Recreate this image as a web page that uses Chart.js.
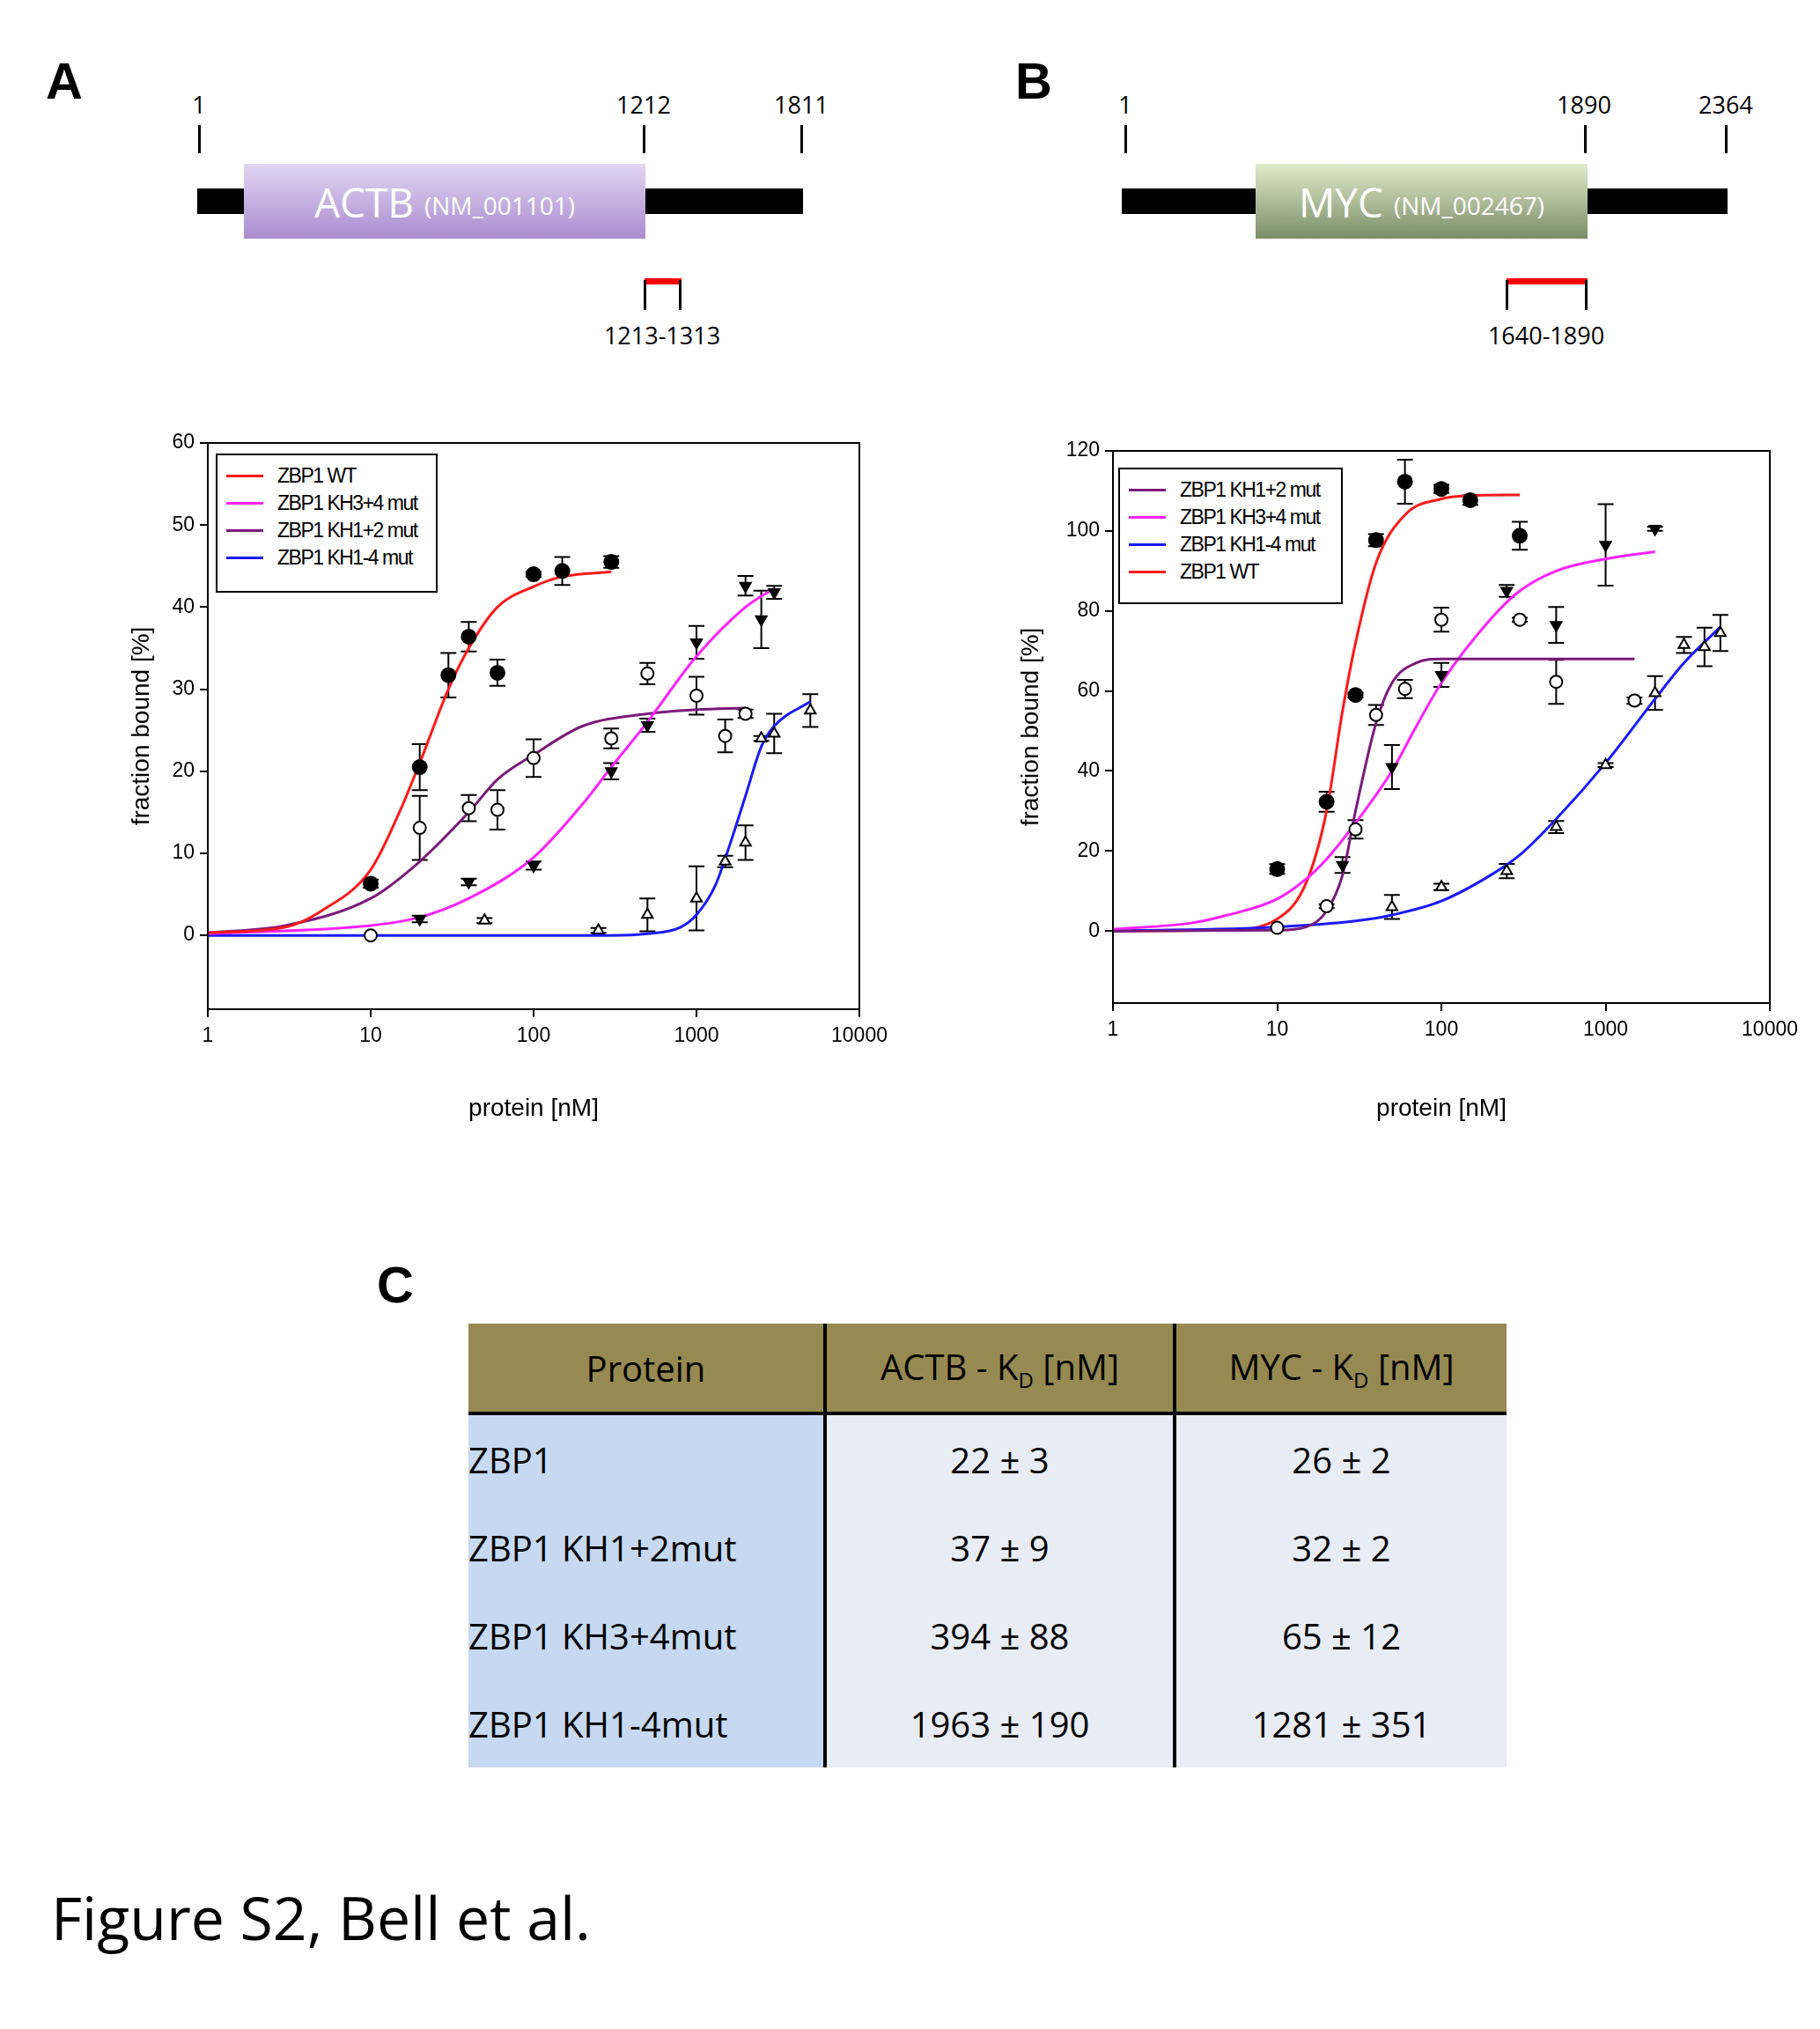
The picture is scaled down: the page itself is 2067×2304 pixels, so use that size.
<!DOCTYPE html>
<html>
<head>
<meta charset="utf-8">
<script src="https://cdn.jsdelivr.net/npm/chart.js@4.4.1/dist/chart.umd.min.js"></script>
<style>
  body { margin: 0; width: 2067px; height: 2304px; background: #fff; position: relative; font-family: "Open Sans", "Liberation Sans", sans-serif; overflow: hidden; }
  .abs { position: absolute; }
  .panel { font-weight: bold; font-size: 58px; font-family: "Liberation Sans", Arial, sans-serif; }
  .bar { background: #000; height: 29px; }
  .tick { width: 3px; background: #000; }
  .num { font-size: 27px; transform: translateX(-50%); white-space: nowrap; }
  .gene { display: flex; align-items: center; justify-content: center; color: #fff; font-size: 46px; }
  .gene small { font-size: 28px; margin-left: 12px; margin-top: 8px; }
  .legend { border: 2px solid #000; background: #fff; font-family: "Liberation Sans", Arial, sans-serif; font-size: 23px; letter-spacing: -1.5px; padding: 8px 10px; box-sizing: border-box; }
  .legend div { display: flex; align-items: center; height: 31px; }
  .legend span.ln { display: inline-block; width: 42px; height: 3px; margin-right: 16px; }
  table { border-collapse: collapse; font-size: 40px; }
  td, th { height: 100px; padding: 0; }
</style>
</head>
<body>
<!-- ===== Panel A diagram ===== -->
<div class="abs panel" style="left:52px;top:58px">A</div>
<div class="abs num" style="left:226px;top:100px">1</div>
<div class="abs num" style="left:731px;top:100px">1212</div>
<div class="abs num" style="left:910px;top:100px">1811</div>
<div class="abs tick" style="left:225px;top:142px;height:32px"></div>
<div class="abs tick" style="left:730px;top:142px;height:32px"></div>
<div class="abs tick" style="left:909px;top:142px;height:32px"></div>
<div class="abs bar" style="left:224px;top:214px;width:688px"></div>
<div class="abs gene" style="left:277px;top:186px;width:456px;height:85px;background:linear-gradient(#e2d6f2,#a98ccf)">ACTB<small>(NM_001101)</small></div>
<div class="abs" style="left:732px;top:316px;width:42px;height:7px;background:#f00"></div>
<div class="abs tick" style="left:731px;top:318px;height:34px"></div>
<div class="abs tick" style="left:771px;top:318px;height:34px"></div>
<div class="abs num" style="left:752px;top:362px">1213-1313</div>

<!-- ===== Panel B diagram ===== -->
<div class="abs panel" style="left:1153px;top:58px">B</div>
<div class="abs num" style="left:1278px;top:100px">1</div>
<div class="abs num" style="left:1799px;top:100px">1890</div>
<div class="abs num" style="left:1960px;top:100px">2364</div>
<div class="abs tick" style="left:1277px;top:142px;height:32px"></div>
<div class="abs tick" style="left:1799px;top:142px;height:32px"></div>
<div class="abs tick" style="left:1959px;top:142px;height:32px"></div>
<div class="abs bar" style="left:1274px;top:214px;width:688px"></div>
<div class="abs gene" style="left:1426px;top:186px;width:377px;height:85px;background:linear-gradient(#dfeccb,#7b8d68)">MYC<small>(NM_002467)</small></div>
<div class="abs" style="left:1711px;top:316px;width:92px;height:7px;background:#f00"></div>
<div class="abs tick" style="left:1710px;top:318px;height:34px"></div>
<div class="abs tick" style="left:1800px;top:318px;height:34px"></div>
<div class="abs num" style="left:1756px;top:362px">1640-1890</div>

<!-- ===== Charts ===== -->
<div class="abs" style="left:140px;top:480px;width:880px;height:800px"><canvas id="chartA"></canvas></div>
<div class="abs" style="left:1150px;top:480px;width:900px;height:800px"><canvas id="chartB"></canvas></div>
<div class="abs legend" id="legendA" style="left:245px;top:515px;width:252px;height:158px"></div>
<div class="abs legend" id="legendB" style="left:1270px;top:531px;width:255px;height:155px"></div>

<!-- ===== Panel C table ===== -->
<div class="abs panel" style="left:428px;top:1425px">C</div>
<table class="abs" style="left:532px;top:1503px;width:1179px">
  <tr style="background:#968a52">
    <th style="width:403px;font-weight:normal;border-right:4px solid #000;border-bottom:4px solid #000">Protein</th>
    <th style="width:393px;font-weight:normal;border-right:4px solid #000;border-bottom:4px solid #000">ACTB - K<sub style="font-size:24px">D</sub> [nM]</th>
    <th style="font-weight:normal;border-bottom:4px solid #000">MYC - K<sub style="font-size:24px">D</sub> [nM]</th>
  </tr>
  <tbody id="kdBody"></tbody>
</table>

<div class="abs" style="left:58px;top:2130px;font-size:68px">Figure S2, Bell et al.</div>

<script>
/* ===== ACTB data (panel A) ===== */
const actbWtX = [10, 20, 30, 40, 60, 100, 150, 300];
const actbWtY = [6.3, 20.5, 31.7, 36.4, 32, 44, 44.4, 45.5];
const actbWtErr = [0.5, 2.8, 2.7, 1.8, 1.6, 0.3, 1.7, 0.7];
const actbKh12X = [10, 20, 40, 60, 100, 300, 500, 1000, 1500, 2000];
const actbKh12Y = [0, 13.1, 15.5, 15.3, 21.6, 24, 31.9, 29.2, 24.3, 27];
const actbKh12Err = [0, 3.9, 1.6, 2.4, 2.3, 1.2, 1.3, 2.3, 2, 0.5];
const actbKh34X = [20, 40, 100, 300, 500, 1000, 2000, 2500, 3000];
const actbKh34Y = [2, 6.5, 8.5, 20, 25.6, 35.7, 42.6, 38.5, 41.8];
const actbKh34Err = [0.4, 0.4, 0.5, 1, 0.8, 2, 1.2, 3.5, 0.8];
const actbKh14X = [50, 250, 500, 1000, 1500, 2000, 2500, 3000, 5000];
const actbKh14Y = [1.8, 0.6, 2.5, 4.5, 9, 11.3, 24, 24.6, 27.4];
const actbKh14Err = [0.3, 0.3, 2, 3.9, 0.7, 2.1, 0.3, 2.4, 2];
// fitted curves
const actbWtFitX = [1, 3, 5, 10, 15, 20, 30, 40, 60, 100, 150, 300];
const actbWtFitY = [0.3, 1, 3, 8, 15, 21, 30, 35, 40, 42.5, 43.7, 44.3];
const actbKh12FitX = [1, 3, 10, 20, 40, 60, 100, 200, 500, 1000, 2000];
const actbKh12FitY = [0.3, 1.2, 4.5, 9, 15, 19, 22, 25.5, 27, 27.5, 27.7];
const actbKh34FitX = [1, 10, 20, 40, 100, 200, 300, 500, 1000, 2000, 3000];
const actbKh34FitY = [0.2, 1.2, 2.2, 4.5, 9.5, 16, 20.5, 26, 34, 40, 42.3];
const actbKh14FitX = [1, 300, 500, 800, 1000, 1300, 1600, 2000, 2500, 3000, 5000];
const actbKh14FitY = [0, 0, 0.2, 1, 2.5, 6, 11, 17, 23, 25.5, 28.5];

/* ===== MYC data (panel B) ===== */
const mycWtX = [10, 20, 30, 40, 60, 100, 150, 300];
const mycWtY = [15.5, 32.3, 59, 97.7, 112.3, 110.5, 107.7, 98.8];
const mycWtErr = [1.2, 2.5, 0.6, 1.5, 5.5, 1, 1.2, 3.5];
const mycKh12X = [10, 20, 30, 40, 60, 100, 300, 500, 1500];
const mycKh12Y = [0.8, 6.2, 25.4, 54, 60.5, 77.8, 77.8, 62.3, 57.6];
const mycKh12Err = [0, 0.5, 2.3, 2.5, 2.3, 3, 0.5, 5.5, 0.8];
const mycKh34X = [25, 50, 100, 250, 500, 1000, 2000];
const mycKh34Y = [16.5, 41, 64, 85, 76.5, 96.5, 100.5];
const mycKh34Err = [2, 5.5, 3, 1.5, 4.5, 10.2, 0.5];
const mycKh14X = [50, 100, 250, 500, 1000, 2000, 3000, 4000, 5000];
const mycKh14Y = [6, 11, 15, 26, 41.5, 59.5, 71.5, 71, 74.5];
const mycKh14Err = [3, 0.8, 1.8, 1.5, 0.5, 4.2, 2, 4.8, 4.5];
const mycWtFitX = [1, 5, 10, 15, 20, 25, 30, 40, 60, 100, 150, 300];
const mycWtFitY = [0, 0.3, 3, 12, 30, 55, 72, 92, 104, 108, 108.8, 109];
const mycKh12FitX = [1, 10, 15, 20, 25, 30, 40, 50, 70, 100, 1500];
const mycKh12FitY = [0, 0.2, 1, 5, 14, 30, 52, 62, 67, 68, 68];
const mycKh34FitX = [1, 3, 5, 10, 15, 20, 30, 50, 70, 100, 200, 300, 500, 1000, 2000];
const mycKh34FitY = [0.5, 2, 4, 8, 13, 18, 27, 40, 51, 62, 78, 85, 90, 93, 94.8];
const mycKh14FitX = [1, 10, 30, 50, 100, 200, 300, 500, 1000, 2000, 3000, 5000];
const mycKh14FitY = [0, 1, 2.5, 4, 7.5, 14, 19, 28, 42, 58, 67, 76];

/* ===== Table C ===== */
const proteins = ['ZBP1', 'ZBP1 KH1+2mut', 'ZBP1 KH3+4mut', 'ZBP1 KH1-4mut'];
const actbKd = ['22 ± 3', '37 ± 9', '394 ± 88', '1963 ± 190'];
const mycKd = ['26 ± 2', '32 ± 2', '65 ± 12', '1281 ± 351'];

const RED = '#ff1a1a', MAG = '#ff22ff', PUR = '#7b1a7b', BLUE = '#1a1aff';

const tbody = document.getElementById('kdBody');
proteins.forEach((p, i) => {
  const row = document.createElement('tr');
  row.innerHTML =
    `<td style="background:#c6d9f0;border-right:4px solid #000">${p}</td>` +
    `<td style="background:#e8ecf4;text-align:center;border-right:4px solid #000">${actbKd[i]}</td>` +
    `<td style="background:#e8ecf4;text-align:center">${mycKd[i]}</td>`;
  tbody.appendChild(row);
});

const zip = (xs, ys) => xs.map((x, i) => ({ x, y: ys[i] }));

function fitSet(label, color, xs, ys) {
  return { label, data: zip(xs, ys), showLine: true, borderColor: color, borderWidth: 3,
    pointRadius: 0, cubicInterpolationMode: 'monotone', fill: false, order: 2 };
}
function markSet(kind, xs, ys, err) {
  const filled = kind === 'dot' || kind === 'down';
  return { label: '', data: zip(xs, ys), err, showLine: false,
    pointStyle: kind === 'dot' || kind === 'ring' ? 'circle' : 'triangle',
    rotation: kind === 'down' ? 180 : 0,
    pointRadius: kind === 'dot' ? 8 : 7, pointBorderWidth: 2,
    backgroundColor: filled ? '#000' : '#fff', borderColor: '#000', order: 1 };
}

// error bars + box frame
const errorBars = {
  id: 'errorBars',
  beforeDatasetsDraw(chart) {
    const { ctx, scales: { x, y } } = chart;
    ctx.save();
    ctx.strokeStyle = '#000';
    ctx.lineWidth = 2;
    chart.data.datasets.forEach(ds => {
      if (!ds.err) return;
      ds.data.forEach((p, i) => {
        const e = ds.err[i];
        if (!e) return;
        const px = x.getPixelForValue(p.x);
        const y1 = y.getPixelForValue(p.y - e), y2 = y.getPixelForValue(p.y + e);
        ctx.beginPath();
        ctx.moveTo(px, y1); ctx.lineTo(px, y2);
        ctx.moveTo(px - 9, y1); ctx.lineTo(px + 9, y1);
        ctx.moveTo(px - 9, y2); ctx.lineTo(px + 9, y2);
        ctx.stroke();
      });
    });
    ctx.restore();
  },
  afterDraw(chart) {
    const { ctx, chartArea: a } = chart;
    ctx.save();
    ctx.strokeStyle = '#000';
    ctx.lineWidth = 2;
    ctx.strokeRect(a.left, a.top, a.right - a.left, a.bottom - a.top);
    ctx.restore();
  }
};

function makeChart(id, datasets, yMin, yMax, yStep, pad, yWidth, xHeight) {
  const font = { family: '"Liberation Sans", Arial, sans-serif', size: 23 };
  return new Chart(document.getElementById(id), {
    type: 'scatter',
    data: { datasets },
    options: {
      responsive: true, maintainAspectRatio: false, animation: false,
      layout: { padding: pad },
      plugins: { legend: { display: false }, tooltip: { enabled: false } },
      scales: {
        x: {
          type: 'logarithmic', min: 1, max: 10000,
          afterBuildTicks: s => { s.ticks = [1, 10, 100, 1000, 10000].map(v => ({ value: v })); },
          afterFit: s => { s.height = xHeight; },
          ticks: { color: '#000', font, padding: 8, callback: v => String(v), maxRotation: 0 },
          grid: { drawOnChartArea: false, color: '#000', tickLength: 9, lineWidth: 2 },
          border: { color: '#000', width: 2 },
          title: { display: true, text: 'protein [nM]', color: '#000', font: { ...font, size: 28 }, padding: { top: 14 } }
        },
        y: {
          min: yMin, max: yMax,
          afterBuildTicks: s => {
            const t = [];
            for (let v = 0; v <= yMax; v += yStep) t.push({ value: v });
            s.ticks = t;
          },
          afterFit: s => { s.width = yWidth; },
          ticks: { color: '#000', font, padding: 6 },
          grid: { drawOnChartArea: false, color: '#000', tickLength: 9, lineWidth: 2 },
          border: { color: '#000', width: 2 },
          title: { display: true, text: 'fraction bound [%]', color: '#000', font: { ...font, size: 28 } }
        }
      }
    },
    plugins: [errorBars]
  });
}

function buildLegend(elId, items) {
  const el = document.getElementById(elId);
  items.forEach(([label, color]) => {
    const d = document.createElement('div');
    d.innerHTML = `<span class="ln" style="background:${color}"></span>${label}`;
    el.appendChild(d);
  });
}

makeChart('chartA', [
  fitSet('ZBP1 WT', RED, actbWtFitX, actbWtFitY),
  fitSet('ZBP1 KH3+4 mut', MAG, actbKh34FitX, actbKh34FitY),
  fitSet('ZBP1 KH1+2 mut', PUR, actbKh12FitX, actbKh12FitY),
  fitSet('ZBP1 KH1-4 mut', BLUE, actbKh14FitX, actbKh14FitY),
  markSet('dot', actbWtX, actbWtY, actbWtErr),
  markSet('ring', actbKh12X, actbKh12Y, actbKh12Err),
  markSet('down', actbKh34X, actbKh34Y, actbKh34Err),
  markSet('up', actbKh14X, actbKh14Y, actbKh14Err)
], -9, 60, 10, { top: 23, right: 44, left: 0, bottom: 0 }, 96, 134);

makeChart('chartB', [
  fitSet('ZBP1 KH1+2 mut', PUR, mycKh12FitX, mycKh12FitY),
  fitSet('ZBP1 KH3+4 mut', MAG, mycKh34FitX, mycKh34FitY),
  fitSet('ZBP1 KH1-4 mut', BLUE, mycKh14FitX, mycKh14FitY),
  fitSet('ZBP1 WT', RED, mycWtFitX, mycWtFitY),
  markSet('dot', mycWtX, mycWtY, mycWtErr),
  markSet('ring', mycKh12X, mycKh12Y, mycKh12Err),
  markSet('down', mycKh34X, mycKh34Y, mycKh34Err),
  markSet('up', mycKh14X, mycKh14Y, mycKh14Err)
], -18, 120, 20, { top: 32, right: 39, left: 0, bottom: 0 }, 114, 141);

buildLegend('legendA', [['ZBP1 WT', RED], ['ZBP1 KH3+4 mut', MAG], ['ZBP1 KH1+2 mut', PUR], ['ZBP1 KH1-4 mut', BLUE]]);
buildLegend('legendB', [['ZBP1 KH1+2 mut', PUR], ['ZBP1 KH3+4 mut', MAG], ['ZBP1 KH1-4 mut', BLUE], ['ZBP1 WT', RED]]);
</script>
</body>
</html>
